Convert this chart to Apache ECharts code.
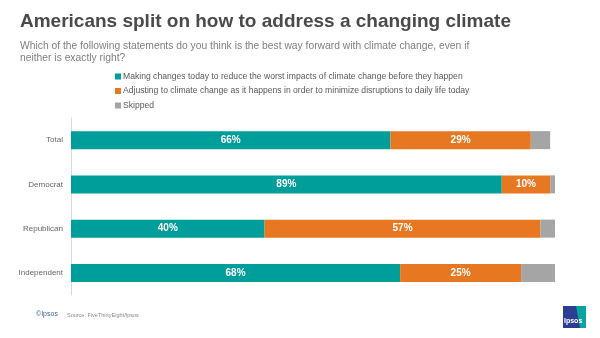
<!DOCTYPE html>
<html><head><meta charset="utf-8">
<script src="https://cdn.jsdelivr.net/npm/echarts@6/dist/echarts.min.js"></script>
<style>html,body{margin:0;padding:0;background:#fff}#c{width:600px;height:338px}</style>
</head><body><div id="c"></div>
<script>
const categories = ['Total', 'Democrat', 'Republican', 'Independent'];
const seriesNames = [
  'Making changes today to reduce the worst impacts of climate change before they happen',
  'Adjusting to climate change as it happens in order to minimize disruptions to daily life today',
  'Skipped'
];
const makingChanges = [66, 89, 40, 68];
const adjusting = [29, 10, 57, 25];
const skipped = [4, 1, 3, 7];
const colors = ['#009E9A', '#E87722', '#A5A5A5'];

const chart = echarts.init(document.getElementById('c'), null, {renderer: 'canvas'});
const lbl = {show: true, position: 'inside', color: '#fff', fontWeight: 'bold', fontSize: 10, fontFamily: 'Arial, Liberation Sans', formatter: p => p.value + '%'};
chart.setOption({
  animation: false,
  title: [
    {text: 'Americans split on how to address a changing climate', left: 15, top: 7,
     textStyle: {fontFamily: 'Liberation Sans, Arial', fontWeight: 'bold', fontSize: 19, color: '#4a4a4a'}},
    {text: 'Which of the following statements do you think is the best way forward with climate change, even if\nneither is exactly right?', left: 15, top: 35,
     textStyle: {fontFamily: 'Liberation Sans, Arial', fontWeight: 'normal', fontSize: 10.3, color: '#7f7f7f', lineHeight: 12}}
  ],
  legend: {
    orient: 'vertical', left: 110, top: 67, itemWidth: 6, itemHeight: 6, itemGap: 5.5,
    icon: 'rect',
    textStyle: {fontFamily: 'Liberation Sans, Arial', fontSize: 8.6, color: '#595959', padding: [0,0,0,-3]},
    data: seriesNames
  },
  grid: {left: 71, right: 45, top: 118, bottom: 43},
  xAxis: {type: 'value', min: 0, max: 100, show: false},
  yAxis: {type: 'category', data: categories, inverse: true,
    axisLine: {show: true, lineStyle: {color: '#d9d9d9'}}, axisTick: {show: false},
    axisLabel: {fontFamily: 'Liberation Sans, Arial', fontSize: 8, color: '#666666', margin: 8}},
  series: [
    {name: seriesNames[0], type: 'bar', stack: 's', data: makingChanges, barWidth: 18, itemStyle: {color: colors[0]}, label: lbl},
    {name: seriesNames[1], type: 'bar', stack: 's', data: adjusting, barWidth: 18, itemStyle: {color: colors[1]}, label: lbl},
    {name: seriesNames[2], type: 'bar', stack: 's', data: skipped, barWidth: 18, itemStyle: {color: colors[2]}}
  ],
  graphic: [
    {type: 'text', left: 36, top: 311, style: {text: '©Ipsos', fontSize: 7, fill: '#3f5b8f', fontFamily: 'Liberation Sans, Arial'}},
    {type: 'text', left: 67, top: 312, style: {text: 'Source: FiveThirtyEight/Ipsos', fontSize: 5.5, fill: '#8a8a8a', fontFamily: 'Liberation Sans, Arial'}},
    {type: 'rect', left: 563, top: 306, shape: {width: 23, height: 22}, style: {fill: '#2a3e93'}},
    {type: 'polygon', shape: {points: [[576,306],[586,306],[586,328],[580,328]]}, style: {fill: '#0aa39f'}},
    {type: 'text', left: 564, top: 318, style: {text: 'Ipsos', fontSize: 7, fontWeight: 'bold', fill: '#fff', fontFamily: 'Liberation Sans, Arial'}}
  ]
});
</script></body></html>
